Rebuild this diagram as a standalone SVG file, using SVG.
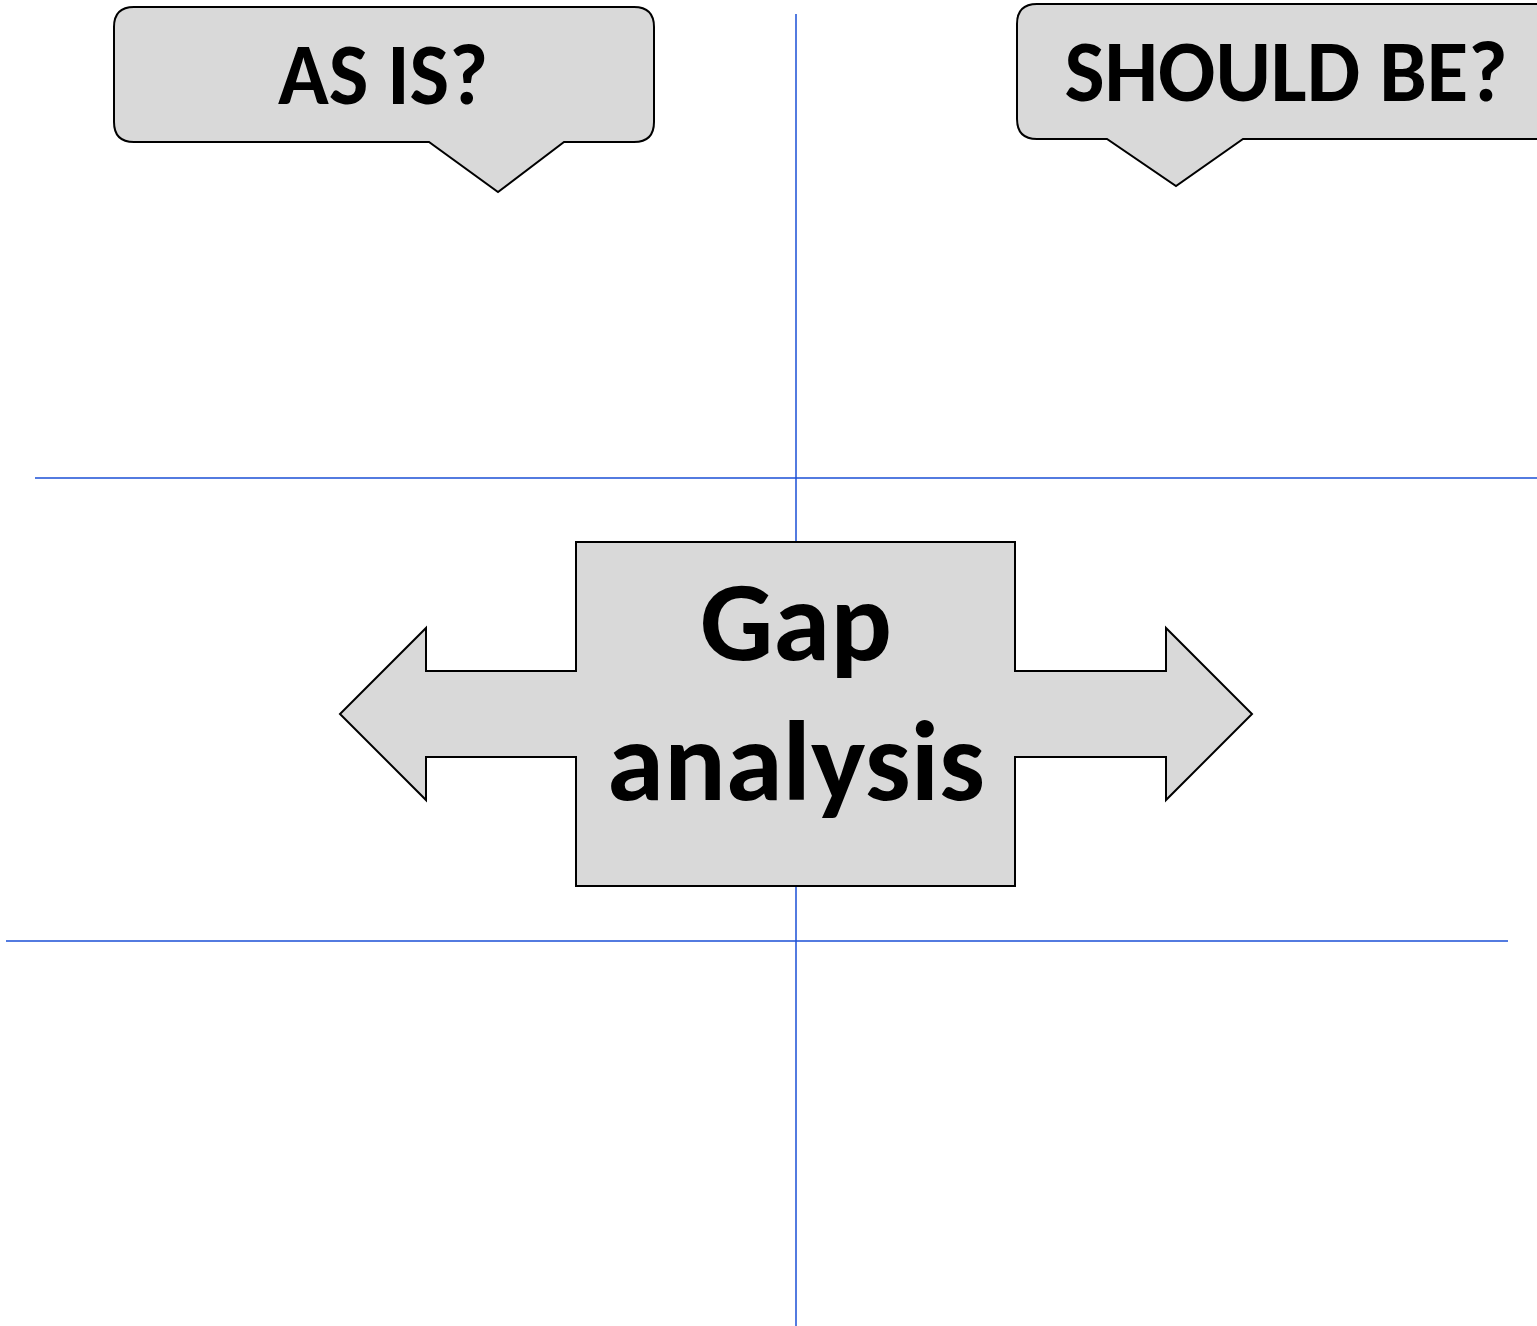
<svg xmlns="http://www.w3.org/2000/svg" width="1537" height="1326" viewBox="0 0 1537 1326">
<style>
.grid{stroke:#1a4fd6;stroke-width:1.5;fill:none}
.shape{fill:#d9d9d9;stroke:#000;stroke-width:2;stroke-linejoin:miter}
.t{font-family:Carlito,Calibri,"Open Sans","Noto Sans",sans-serif;font-weight:bold;fill:#000;text-anchor:middle}
</style>
<rect width="1537" height="1326" fill="#fff"/>
<g id="connectors">
<line class="grid" x1="796" y1="14" x2="796" y2="1326"/>
<line class="grid" x1="35" y1="478" x2="1537" y2="478"/>
<line class="grid" x1="6" y1="941" x2="1508" y2="941"/>
</g>
<g id="as-is">
<path class="shape" d="M134,7 H634 Q654,7 654,27 V122 Q654,142 634,142 H564 L498,192 L429,142 H134 Q114,142 114,122 V27 Q114,7 134,7 Z"/>
<text class="t" x="383" y="104" font-size="88" textLength="210" lengthAdjust="spacingAndGlyphs">AS IS?</text>
</g>
<g id="should-be">
<path class="shape" d="M1037,4 H1540 V139 H1243 L1176,186 L1107,139 H1037 Q1017,139 1017,119 V24 Q1017,4 1037,4 Z"/>
<text class="t" x="1286" y="101" font-size="88" textLength="443" lengthAdjust="spacingAndGlyphs">SHOULD BE?</text>
</g>
<g id="gap-analysis">
<path class="shape" d="M576,542 H1015 V671 H1166 V628 L1252,714 L1166,800 V757 H1015 V886 H576 V757 H426 V800 L340,714 L426,628 V671 H576 Z"/>
<text class="t" x="796" y="660" font-size="113" textLength="192" lengthAdjust="spacingAndGlyphs">Gap</text>
<text class="t" x="796" y="800" font-size="113" textLength="378" lengthAdjust="spacingAndGlyphs">analysis</text>
</g>
</svg>
